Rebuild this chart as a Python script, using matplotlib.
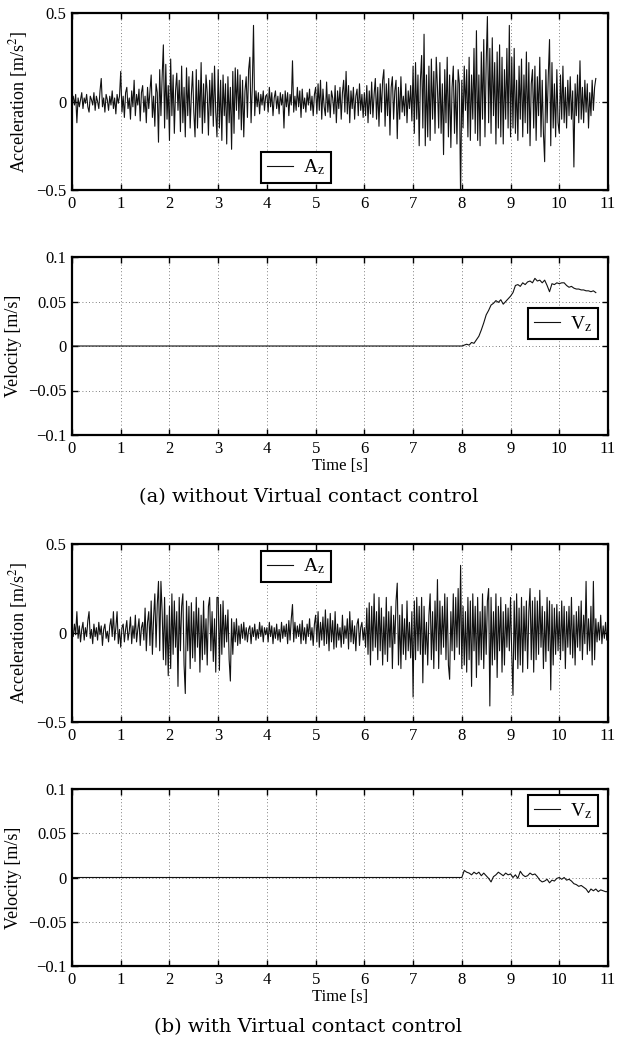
import numpy as np
from matplotlib import pyplot as plt
from matplotlib.ticker import FixedLocator, FixedFormatter

plt.rcParams['font.family'] = ['Liberation Serif', 'DejaVu Serif']
plt.rcParams['mathtext.fontset'] = 'stix'

# acceleration without virtual contact control, in 1/100 m/s^2, one value every 0.025 s (0 .. 10.75 s)
acc_a = [
    1, 3, -2, 4, -12, 2, -3, 1, 5, -4, 2, -1, 4, -3, -6, 3, 1, -2, 5, -5,
    3, 0, -4, 6, 13, -3, 2, -6, 4, 1, -5, 3, -2, 6, -4, 2, -7, 4, -1, 3,
    17, -6, 3, -9, 5, 8, -4, 2, -10, 6, -3, 12, -8, 4, -2, 7, -11, 5, 9, -6,
    3, -12, 8, -4, 6, 15, -9, 3, -14, 10, 5, -23, 18, -8, 14, 32, -15, 21, -10, 9,
    -22, 24, -8, 15, -18, 6, 16, -5, 12, -17, 20, -12, 8, -20, 19, -8, 14, -15, 4, 17,
    -6, -20, 18, -15, 12, -9, 22, -18, 10, -12, 15, 5, -19, 12, -8, 16, -14, 20, -6, -20,
    18, -15, 12, -22, 15, -8, 10, -24, 14, -12, 8, -27, 17, -18, 19, -5, 18, -10, 15, -16,
    12, -20, 6, 14, -9, 18, 25, -12, 8, 43, -8, 6, -3, 5, -7, 4, -2, 6, -5, 3,
    4, -6, 8, -3, 5, -8, 2, 6, -4, 3, -7, 5, -2, 4, -15, 6, -3, 5, -8, 4,
    -2, 23, -6, 3, -5, 8, -3, 6, -9, 7, -4, 2, -6, 5, -2, 7, -5, 3, -8, 4,
    8, -7, 10, -5, 12, -10, 7, -3, -8, 11, -6, 4, -9, 6, 2, -7, 9, -12, 6, -4,
    8, -10, 5, 12, -6, 17, -7, 9, -12, 6, -4, 8, -10, 3, 7, -8, 10, -5, 4, -9,
    5, -8, 9, -12, 6, -7, 11, -9, 4, 13, -10, 8, -14, 10, -6, 12, 18, -14, 10, -8,
    13, -19, 8, 14, -10, 6, 12, -21, 8, -10, 14, -6, 3, -8, 10, -12, 6, -4, 9, -11,
    20, -18, 22, -10, 15, -25, 12, 26, -15, 38, -25, 15, -20, 20, -22, 24, -10, 17, -18, 25,
    8, -15, 22, -18, 10, -30, 18, -12, 25, -20, 15, -26, 8, 20, -18, 12, -24, 18, 10, -55,
    12, -15, 20, -5, 18, -20, 25, -22, 15, -10, 30, -18, 40, -22, 15, -25, 28, -10, 35, -20,
    22, 48, -12, 30, -18, 36, -8, 22, -24, 28, -15, 32, -20, 25, -24, 18, -10, 30, -15, 43,
    -20, 25, -15, 30, -18, 12, -22, 20, -10, 24, -20, 15, -12, 28, -18, 22, -25, 10, 18, -15,
    20, -22, 14, -8, 25, -20, 12, -18, -34, 18, -12, 15, 35, -25, 22, -15, 10, -20, 18, -12,
    -18, 15, -10, 20, -12, 8, -15, 12, -8, 14, -10, 6, -37, 10, -8, 15, -12, 23, -10, 8,
    -12, 12, -6, 10, -15, 5, -8, 12, -5, 8, 13,
]

# acceleration with virtual contact control, in 1/100 m/s^2, every 0.025 s (0 .. 11 s)
acc_b = [
    1, -2, 5, -1, 12, -3, 4, -5, 2, 6, -4, 3, -2, 7, 12, -3, 2, -6, 5, -2,
    3, -4, 6, -1, 4, -7, 2, 5, -3, 1, -5, 4, 8, -2, 12, -4, 3, 12, -6, 2,
    -8, 3, 5, -5, 2, 7, -4, 1, 9, -6, 4, -3, 10, -5, 2, 8, -7, 3, 6, -4,
    14, -10, 6, 12, -7, 18, -12, 9, 22, -8, 16, 29, -10, 29, 12, -15, 20, -18, 10, -24,
    15, -20, 22, -12, 18, -8, 12, -30, 20, -10, 15, 22, -18, -34, 18, -10, 15, -20, 17, -14,
    12, -16, 20, -8, 14, -22, 10, -15, 18, -12, 8, -18, 15, 20, -10, 12, -16, 8, -22, 20,
    20, -21, 16, -12, 18, -8, 10, -5, 13, -15, -27, 8, -12, 6, -5, 8, -7, 4, -6, 5,
    -3, 6, -4, 3, -5, 2, 4, -6, 3, -2, 5, -4, 2, -3, 6, -2, 4, -5, 3, -1,
    3, -5, 6, -2, 4, -6, 3, -3, 5, -4, 2, -5, 6, -3, 4, -2, 5, -6, 7, -4,
    8, 16, -5, 6, -3, 4, -2, 5, -6, 7, -4, 3, -6, 5, -2, 8, -4, 3, -7, 5,
    10, -5, 12, -8, 6, -4, 9, -7, 13, -6, 8, -10, 11, -5, 7, -9, 12, -8, 5, -4,
    3, -8, 10, -6, 4, -3, 8, -9, 12, -5, 7, -6, 4, -10, 5, 8, -7, 3, 6, -4,
    3, -8, 14, -12, 17, -18, 15, -10, 22, -8, 12, -15, 20, -10, 14, -18, 9, -12, 20, -16,
    12, -8, 15, -20, 10, -6, 18, 28, -18, 10, -20, 16, -12, 8, -15, 18, -10, 6, -14, 12,
    -36, 18, -15, 20, -10, 15, -12, 20, -28, 15, -12, 6, -18, 10, 22, -15, 12, -20, 18, -10,
    30, -20, 18, -12, 15, -8, 22, -15, 20, -18, -26, 12, -10, 22, -15, 20, -8, 25, -12, 38,
    -20, 15, -18, 12, -22, 20, -15, 18, -30, 22, -10, 15, -25, 20, -18, 12, -15, 22, -20, 15,
    -12, 18, 25, -41, 20, -18, 12, -15, 22, -25, 15, -10, 20, -22, 12, -18, 16, -8, 14, -10,
    20, -12, -35, 18, -15, 22, -20, 14, -18, 20, -22, 15, -10, 18, -20, 12, 25, -15, 18, -22,
    20, -15, 18, -12, 24, -8, 15, -20, 12, -16, 20, -10, 18, -32, 16, -18, 14, -12, 16, -10,
    12, -15, 18, -10, 15, -20, 12, -8, 15, -12, 20, -14, 10, -18, 12, -8, 15, -10, 18, -15,
    10, -6, 29, -12, 8, -10, 15, -18, 29, -15, 8, -5, 6, -4, 10, -6, 4, -3, 6, -4,
    3,
]

# velocity without control
vel_a_t = [0.0, 8.0, 8.05, 8.1, 8.15, 8.2, 8.25, 8.3, 8.35, 8.4, 8.45, 8.5, 8.55, 8.6, 8.65, 8.7, 8.75, 8.8, 8.85,
           8.9, 8.95, 9.0, 9.05, 9.1, 9.15, 9.2, 9.25, 9.3, 9.35, 9.4, 9.45, 9.5, 9.55, 9.6, 9.65, 9.7, 9.75,
           9.8, 9.85, 9.9, 9.95, 10.0, 10.05, 10.1, 10.15, 10.2, 10.25, 10.3, 10.35, 10.4, 10.45, 10.5, 10.55,
           10.6, 10.65, 10.7, 10.75]
vel_a = [0.0, 0.0, 0.001, 0.002, 0.001, 0.004, 0.003, 0.007, 0.011, 0.018, 0.026, 0.035, 0.040, 0.046, 0.048, 0.051, 0.049,
         0.052, 0.047, 0.050, 0.053, 0.056, 0.060, 0.068, 0.069, 0.067, 0.071, 0.069, 0.072, 0.073, 0.071, 0.076, 0.073,
         0.074, 0.071, 0.074, 0.068, 0.061, 0.070, 0.069, 0.071, 0.070, 0.071, 0.071, 0.068, 0.066, 0.067, 0.065, 0.064,
         0.064, 0.063, 0.063, 0.062, 0.062, 0.061, 0.062, 0.060]

# velocity with control
vel_b_t = [0.0, 8.0, 8.05, 8.1, 8.15, 8.2, 8.25, 8.3, 8.35, 8.4, 8.45, 8.5, 8.55, 8.6, 8.65, 8.7, 8.75, 8.8, 8.85,
           8.9, 8.95, 9.0, 9.05, 9.1, 9.15, 9.2, 9.25, 9.3, 9.35, 9.4, 9.45, 9.5, 9.55, 9.6, 9.65, 9.7, 9.75,
           9.8, 9.85, 9.9, 9.95, 10.0, 10.05, 10.1, 10.15, 10.2, 10.25, 10.3, 10.35, 10.4, 10.45, 10.5, 10.55,
           10.6, 10.65, 10.7, 10.75, 10.8, 10.85, 10.9, 10.95, 11.0]
vel_b = [0.0, 0.0, 0.008, 0.006, 0.005, 0.003, 0.006, 0.004, 0.006, 0.002, 0.005, 0.002, -0.001, -0.005, 0.001, 0.003,
         0.006, 0.004, 0.002, 0.005, 0.003, 0.004, 0.000, 0.003, -0.001, 0.007, 0.003, 0.001, 0.002, 0.005, 0.003,
         0.004, 0.001, -0.003, -0.005, -0.004, -0.002, -0.006, -0.003, -0.004, -0.001, 0.000, -0.002, 0.000, -0.003,
         -0.002, -0.004, -0.007, -0.008, -0.010, -0.009, -0.011, -0.013, -0.017, -0.013, -0.015, -0.013, -0.016,
         -0.014, -0.015, -0.016, -0.016]

x_ticks = list(range(12))
acc_ticks = [-0.5, 0, 0.5]
acc_labels = ['\u22120.5', '0', '0.5']
vel_ticks = [-0.1, -0.05, 0, 0.05, 0.1]
vel_labels = ['\u22120.1', '\u22120.05', '0', '0.05', '0.1']

acc_a = np.array(acc_a) / 100
acc_b = np.array(acc_b) / 100
t_a = np.arange(len(acc_a)) * 0.025
t_b = np.arange(len(acc_b)) * 0.025

W, H = 617, 1042
fig = plt.figure(figsize=(W / 100, H / 100), dpi=100)


def make_axes(top, bottom):
    ax = fig.add_axes([72 / W, 1 - bottom / H, 536 / W, (bottom - top) / H])
    ax.set_xlim(0, 11)
    ax.xaxis.set_major_locator(FixedLocator(x_ticks))
    ax.tick_params(direction='in', top=True, right=True, labelsize=12, length=4, width=1, pad=4)
    ax.grid(True, linestyle=(0, (1, 3)), color='#555555', linewidth=0.6)
    for s in ax.spines.values():
        s.set_linewidth(1.6)
    return ax


def add_legend(ax, loc, anchor):
    leg = ax.legend(loc=loc, bbox_to_anchor=anchor, borderaxespad=0, fancybox=False, edgecolor='black',
                    fontsize=14, handlelength=1.35, handletextpad=0.5, borderpad=0.3, framealpha=1)
    leg.get_frame().set_linewidth(1.5)


def acc_panel(ax, t, a, loc, anchor):
    ax.plot(t, a, color='#111111', linewidth=0.8, label=r'A$_{\mathrm{z}}$')
    ax.set_ylim(-0.5, 0.5)
    ax.yaxis.set_major_locator(FixedLocator(acc_ticks))
    ax.yaxis.set_major_formatter(FixedFormatter(acc_labels))
    ax.set_ylabel(r'Acceleration [m/s$^2$]', fontsize=13)
    ax.yaxis.set_label_coords(-0.078, 0.5)
    add_legend(ax, loc, anchor)


def vel_panel(ax, t, v, anchor):
    ax.plot(t, v, color='#111111', linewidth=0.8, label=r'V$_{\mathrm{z}}$')
    ax.set_ylim(-0.1, 0.1)
    ax.yaxis.set_major_locator(FixedLocator(vel_ticks))
    ax.yaxis.set_major_formatter(FixedFormatter(vel_labels))
    ax.set_ylabel('Velocity [m/s]', fontsize=13)
    ax.yaxis.set_label_coords(-0.093, 0.5)
    ax.set_xlabel('Time [s]', fontsize=12, labelpad=1)
    add_legend(ax, 'upper right', anchor)


ax1 = make_axes(13, 190)
acc_panel(ax1, t_a, acc_a, 'lower left', (0.3526, 0.04))

ax2 = make_axes(257, 435)
vel_panel(ax2, vel_a_t, vel_a, (0.981, 0.713))

ax3 = make_axes(544, 722)
acc_panel(ax3, t_b, acc_b, 'upper left', (0.3526, 0.961))

ax4 = make_axes(789, 966)
vel_panel(ax4, vel_b_t, vel_b, (0.981, 0.966))

fig.text(0.5, 1 - 497 / H, '(a) without Virtual contact control', ha='center', va='center',
         fontsize=14, family='DejaVu Serif')
fig.text(0.5, 1 - 1027 / H, '(b) with Virtual contact control', ha='center', va='center',
         fontsize=14, family='DejaVu Serif')

plt.savefig('out.png', dpi=100)
